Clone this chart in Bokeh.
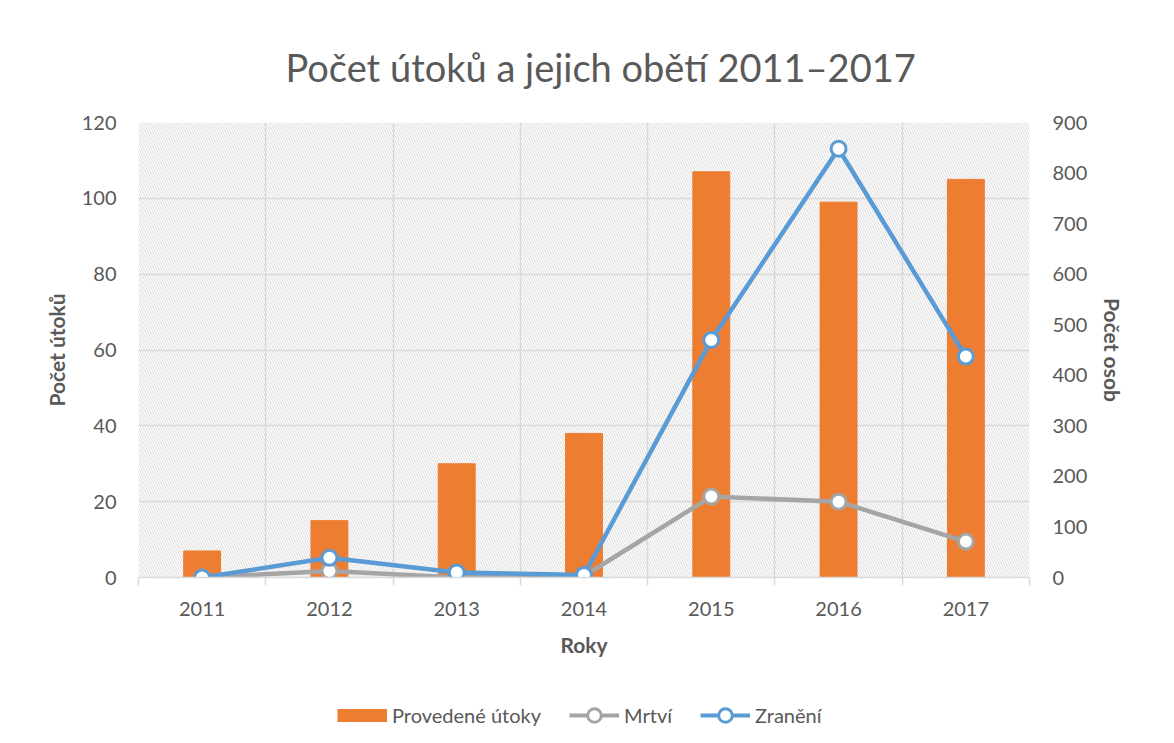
from bokeh.plotting import figure
from bokeh.models import (Range1d, LinearAxis, FixedTicker, BoxAnnotation, Legend,
                          LegendItem)
from bokeh.layouts import column
from bokeh.embed import file_html
from bokeh.resources import INLINE

# ---- data ----
years = ["2011", "2012", "2013", "2014", "2015", "2016", "2017"]
attacks = [7, 15, 30, 38, 107, 99, 105]          # Provedené útoky (left axis)
deaths = [0, 13, 0, 3, 160, 150, 71]             # Mrtví (right axis)
injured = [0, 39, 10, 5, 470, 848, 437]          # Zranění (right axis)
left_ticks = [0, 20, 40, 60, 80, 100, 120]
right_ticks = [0, 100, 200, 300, 400, 500, 600, 700, 800, 900]
series_names = ["Provedené útoky", "Mrtví", "Zranění"]

FONT = "Lato"
TEXT = "#595959"
GRID = "#d9d9d9"
ORANGE = "#ED7D31"
GRAY = "#A5A5A5"
BLUE = "#5B9BD5"

xs = list(range(1, len(years) + 1))
bounds = [i + 0.5 for i in range(len(years) + 1)]

p = figure(width=1174, height=690, x_range=Range1d(0.5, len(years) + 0.5),
           y_range=Range1d(0, 120), output_backend="svg", toolbar_location=None,
           min_border_left=138, min_border_right=145, min_border_top=122,
           min_border_bottom=113)
p.extra_y_ranges = {"osob": Range1d(0, 900)}
p.outline_line_color = None
p.background_fill_color = "white"
p.border_fill_color = "white"

# title
p.title.text = "Počet útoků a jejich obětí 2011–2017"
p.title.align = "left"
p.title.offset = 147
p.title.text_font = FONT
p.title.text_font_size = "38px"
p.title.text_font_style = "normal"
p.title.text_color = TEXT
p.title.standoff = 66

# hatched plot-area background
hatch = BoxAnnotation(fill_alpha=0, line_alpha=0, hatch_pattern="\\",
                      hatch_color="#dadada", hatch_scale=5, hatch_weight=1,
                      level="underlay")
p.add_layout(hatch)

# grids
p.xgrid.ticker = FixedTicker(ticks=bounds)
p.ygrid.ticker = FixedTicker(ticks=left_ticks)
for g in (p.xgrid, p.ygrid):
    g.grid_line_color = GRID
    g.grid_line_width = 1.5

# x axis
xa = p.xaxis[0]
xa.ticker = FixedTicker(ticks=xs, minor_ticks=bounds)
xa.major_label_overrides = {x: y for x, y in zip(xs, years)}
xa.major_tick_out = 0
xa.major_tick_in = 0
xa.minor_tick_out = 8
xa.minor_tick_in = 0
xa.minor_tick_line_color = GRID
xa.minor_tick_line_width = 1.5
xa.axis_line_color = GRID
xa.axis_line_width = 1.5
xa.major_label_standoff = 16
xa.axis_label = "Roky"
xa.axis_label_standoff = 13

# left axis
ya = p.yaxis[0]
ya.ticker = FixedTicker(ticks=left_ticks)
ya.axis_label = "Počet útoků"
ya.major_label_standoff = 16
ya.axis_label_standoff = 10

# right axis
ra = LinearAxis(y_range_name="osob", ticker=FixedTicker(ticks=right_ticks),
                axis_label="Počet osob")
ra.major_label_standoff = 17
ra.axis_label_standoff = 10
p.add_layout(ra, "right")

for ax in (xa, ya, ra):
    ax.major_label_text_font = FONT
    ax.major_label_text_font_size = "20px"
    ax.major_label_text_color = TEXT
    ax.axis_label_text_font = FONT
    ax.axis_label_text_font_size = "21px"
    ax.axis_label_text_font_style = "bold"
    ax.axis_label_text_color = TEXT
for ax in (ya, ra):
    ax.axis_line_color = None
    ax.major_tick_line_color = None
    ax.minor_tick_line_color = None

# glyphs
bar_style = dict(fill_color=ORANGE, line_color=ORANGE)
d_line = dict(line_color=GRAY, line_width=4.5, line_join="round", line_cap="round")
d_mark = dict(size=15, fill_color="white", line_color=GRAY, line_width=3)
i_line = dict(line_color=BLUE, line_width=4.5, line_join="round", line_cap="round")
i_mark = dict(size=15, fill_color="white", line_color=BLUE, line_width=3)

p.vbar(x=xs, top=attacks, width=0.29, **bar_style)
p.line(xs, deaths, y_range_name="osob", **d_line)
p.scatter(xs, deaths, y_range_name="osob", **d_mark)
p.line(xs, injured, y_range_name="osob", **i_line)
p.scatter(xs, injured, y_range_name="osob", **i_mark)

# legend strip (separate figure so the legend is not clipped); its glyphs use
# the same data but lie outside the strip's visible ranges
lg = figure(width=1174, height=53, x_range=Range1d(-20, -10), y_range=Range1d(-20, -10),
            output_backend="svg", toolbar_location=None, min_border=0)
lg.axis.visible = False
lg.grid.visible = False
lg.outline_line_color = None
r_bar = lg.line(xs, attacks, line_color=ORANGE, line_width=13, line_cap="butt")
r_dl = lg.line(xs, deaths, line_color=GRAY, line_width=4, line_cap="butt")
r_dm = lg.scatter(xs, deaths, **d_mark)
r_il = lg.line(xs, injured, line_color=BLUE, line_width=4, line_cap="butt")
r_im = lg.scatter(xs, injured, **i_mark)

legend = Legend(items=[
    LegendItem(label=series_names[0], renderers=[r_bar]),
    LegendItem(label=series_names[1], renderers=[r_dl, r_dm]),
    LegendItem(label=series_names[2], renderers=[r_il, r_im]),
], orientation="horizontal", location=(195, 7))
legend.label_text_font = FONT
legend.label_text_font_size = "20px"
legend.label_text_color = TEXT
legend.glyph_width = 50
legend.glyph_height = 34
legend.label_standoff = 5
legend.spacing = 28
legend.padding = 4
legend.border_line_alpha = 0
legend.background_fill_alpha = 0
lg.add_layout(legend)

layout = column(p, lg)
open("out.html", "w").write(file_html(layout, INLINE))
